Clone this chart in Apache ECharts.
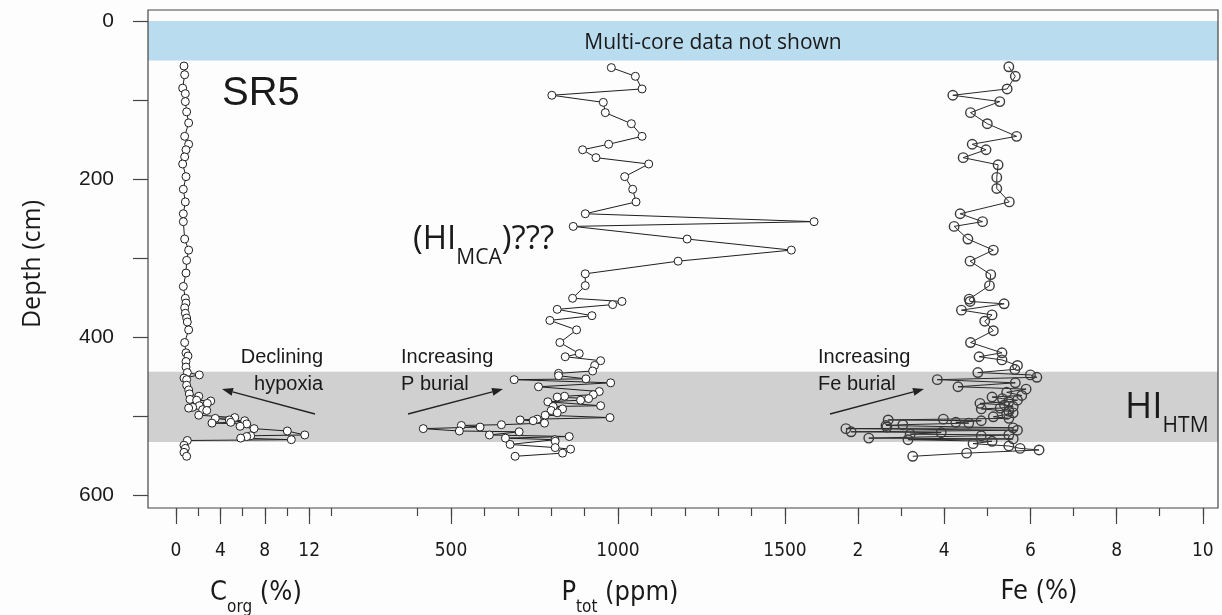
<!DOCTYPE html>
<html><head><meta charset="utf-8">
<script src="https://cdn.jsdelivr.net/npm/echarts@6/dist/echarts.min.js"></script>
<style>html,body{margin:0;padding:0;background:#fdfdfd}#c{width:1222px;height:615px}</style>
</head><body><div id="c"></div><script>
// ---------- data (depth in cm) ----------
const corgDepth = [57,68,85,92,102,115,129,146,156,163,172,181,197,213,229,244,254,276,290,303,319,336,351,357,363,370,376,381,391,407,420,424,431,438,445,448,452,454,461,467,472,475,479,480,481,484,487,489,490,492,493,499,502,503,505,506,508,509,510,513,516,519,524,525,526,528,530,531,537,541,546,551];
const corgValue = [0.72,0.78,0.6,0.84,0.84,0.96,1.14,0.78,1.14,0.9,0.78,0.6,0.9,0.66,0.84,0.66,0.66,0.78,1.14,0.96,0.9,0.66,0.84,0.9,0.78,0.84,0.96,1.02,1.14,0.78,0.9,1.08,0.9,0.9,1.02,2.1,0.72,0.96,0.96,1.14,1.2,2.05,1.26,1.86,3.13,2.82,2.1,1.5,1.14,2.4,2.77,2.05,5.29,3.54,4.8,6.19,4.93,3.24,6.37,5.77,7.03,10.03,11.6,6.73,6.37,5.83,10.39,1.02,0.72,0.84,0.72,0.96];

const ptotDepth = [59,70,86,94,103,116,130,146,156,163,173,181,197,213,229,244,254,260,276,290,304,320,335,351,355,359,365,373,379,391,407,421,425,430,436,443,446,449,453,454,458,463,469,473,475,476,478,480,482,487,488,491,493,496,499,502,504,505,506,509,511,512,514,516,519,520,524,526,528,530,532,536,540,542,547,551];
const ptotValue = [980,1052,1072,802,956,962,1040,1072,972,894,934,1092,1020,1044,1054,902,1587,866,1207,1519,1180,902,902,864,1012,984,818,922,796,876,826,884,842,948,930,924,822,822,904,689,978,762,944,926,840,818,912,888,790,948,806,834,800,818,782,976,758,707,746,780,651,531,587,417,525,704,615,854,663,811,812,677,812,858,834,692];

const feDepth = [58,70,86,94,102,116,130,146,156,163,173,182,198,212,229,244,254,260,276,290,304,321,335,352,355,358,366,372,380,392,407,420,425,429,436,441,445,448,451,454,458,463,466,470,474,476,478,480,482,484,486,488,490,491,494,496,498,501,503,504,505,506,508,509,511,512,514,515,516,518,520,521,523,524,525,528,529,530,532,535,538,541,543,547,551];
const feValue = [5.50,5.65,5.46,4.20,5.29,4.61,5.00,5.68,4.65,4.97,4.44,5.25,5.22,5.22,5.51,4.37,4.89,4.23,4.55,5.14,4.60,5.08,5.05,4.58,4.60,5.39,4.40,5.11,4.94,5.14,4.61,5.34,4.81,5.34,5.70,5.64,4.78,6.00,6.15,3.84,5.65,4.32,5.90,5.45,5.80,5.11,5.35,5.70,5.50,4.83,5.40,5.60,5.30,4.86,5.50,5.60,5.45,5.14,5.50,3.98,2.70,4.86,4.27,4.57,3.04,2.65,2.67,5.60,1.72,5.70,1.84,3.93,3.21,5.50,4.86,2.25,5.60,3.16,5.11,4.67,5.50,5.76,6.20,4.52,3.27];

// shaded depth intervals [top, bottom]
const multiCoreBand = [0, 50];
const htmBand = [444, 533];

// axis ranges and tick steps
const depthAxis = {min: 0, max: 600, step: 100, labelStep: 200};
const corgAxis = {min: 0, max: 14, labelMax: 12, minor: 2, major: 4};
const ptotAxis = {min: 400, labelMin: 500, max: 1500, minor: 100, major: 500};
const feAxis = {min: 2, max: 10, minor: 1, major: 2};

// ---------- layout ----------
const PX = {frameL: 148, frameT: 10, frameW: 1070, frameH: 498, plotT: 21, plotH: 474};
// anchor value -> pixel position, pixels per unit
const corgPx = {a: 0, p: 176, k: 11.1};
const ptotPx = {a: 500, p: 451, k: 0.334};
const fePx = {a: 2, p: 858, k: 43.1};
const toPx = (m, v) => m.p + (v - m.a) * m.k;

const NARROW = '"Liberation Sans Narrow","Arial Narrow","DejaVu Sans Condensed","Liberation Sans",sans-serif';
const ARIAL = '"Liberation Sans",Arial,sans-serif';
const MYRIAD = '"Open Sans","Noto Sans",sans-serif';
const INK = '#1a1a1a';
const AX = '#454545';

const pairs = (vals, deps) => vals.map((v, i) => [v, deps[i]]);

function spanGrid(m, lo, hi) {
  return {left: toPx(m, lo), top: PX.plotT, width: (hi - lo) * m.k, height: PX.plotH, show: false};
}
function wideGrid() {
  return {left: PX.frameL, top: PX.plotT, width: PX.frameW, height: PX.plotH, show: false};
}
const grids = [
  {left: PX.frameL, top: PX.frameT, width: PX.frameW, height: PX.frameH, show: true,
   borderColor: AX, borderWidth: 1.2, backgroundColor: 'transparent', z: 5},
  wideGrid(),
  spanGrid(corgPx, corgAxis.min, corgAxis.max),
  spanGrid(corgPx, corgAxis.min, corgAxis.labelMax),
  spanGrid(ptotPx, ptotAxis.min, ptotAxis.max),
  spanGrid(ptotPx, ptotAxis.labelMin, ptotAxis.max),
  spanGrid(fePx, feAxis.min, feAxis.max),
  spanGrid(fePx, feAxis.min, feAxis.max),
  wideGrid(), wideGrid(), wideGrid()     // data layers (one per profile)
];

const OFF = PX.frameT + PX.frameH - (PX.plotT + PX.plotH); // shift x axes to frame bottom

function tickX(gi, min, max, step, major) {
  return {type: 'value', gridIndex: gi, min: min, max: max, interval: step, position: 'bottom', offset: OFF,
    axisLine: {show: false, onZero: false}, splitLine: {show: false},
    axisTick: {show: true, length: major ? 16 : 8, lineStyle: {color: AX, width: 1.2}},
    axisLabel: major ? {show: true, margin: 34, fontSize: 19, fontFamily: NARROW, color: INK,
      showMinLabel: true, showMaxLabel: true, hideOverlap: false, formatter: v => String(v)} : {show: false}};
}
function dataX(gi, m) {
  return {type: 'value', gridIndex: gi, show: false, axisLine: {onZero: false},
    min: m.a + (PX.frameL - m.p) / m.k, max: m.a + (PX.frameL + PX.frameW - m.p) / m.k};
}
const hiddenX = gi => ({type: 'value', gridIndex: gi, min: 0, max: 1, show: false, axisLine: {onZero: false}});
const hiddenY = gi => ({type: 'value', gridIndex: gi, min: depthAxis.min, max: depthAxis.max, inverse: true, show: false});

const xAxes = [
  hiddenX(0), hiddenX(1),
  tickX(2, corgAxis.min, corgAxis.max, corgAxis.minor, false),
  tickX(3, corgAxis.min, corgAxis.labelMax, corgAxis.major, true),
  tickX(4, ptotAxis.min, ptotAxis.max, ptotAxis.minor, false),
  tickX(5, ptotAxis.labelMin, ptotAxis.max, ptotAxis.major, true),
  tickX(6, feAxis.min, feAxis.max, feAxis.minor, false),
  tickX(7, feAxis.min, feAxis.max, feAxis.major, true),
  dataX(8, corgPx), dataX(9, ptotPx), dataX(10, fePx)
];
const yAxes = [
  {type: 'value', gridIndex: 0, min: 0, max: 1, show: false},
  {type: 'value', gridIndex: 1, min: depthAxis.min, max: depthAxis.max, interval: depthAxis.step, inverse: true,
   axisLine: {show: false, onZero: false}, splitLine: {show: false},
   axisTick: {show: true, length: 15, lineStyle: {color: AX, width: 1.2}},
   axisLabel: {margin: 34, fontSize: 21, fontFamily: ARIAL, color: INK,
     formatter: v => (v % depthAxis.labelStep === 0 ? String(v) : '')}},
  hiddenY(2), hiddenY(3), hiddenY(4), hiddenY(5), hiddenY(6), hiddenY(7),
  hiddenY(8), hiddenY(9), hiddenY(10)
];

function profile(name, gi, data, filled) {
  return {name: name, type: 'line', xAxisIndex: gi, yAxisIndex: gi, data: data, clip: false,
    symbol: 'circle', symbolSize: filled ? 8 : 9.5, showSymbol: true, z: 3,
    lineStyle: {color: filled ? '#1f1f1f' : '#2a2a2a', width: 1},
    itemStyle: filled ? {color: '#ffffff', borderColor: '#1f1f1f', borderWidth: 1}
                      : {color: 'rgba(255,255,255,0)', borderColor: '#3c3c3c', borderWidth: 1.4},
    emphasis: {disabled: true}};
}

const series = [
  {type: 'line', xAxisIndex: 1, yAxisIndex: 1, data: [], silent: true,
   markArea: {silent: true, data: [
     [{yAxis: multiCoreBand[0], itemStyle: {color: '#b9dcee'}}, {yAxis: multiCoreBand[1]}],
     [{yAxis: htmBand[0], itemStyle: {color: '#d0d0d0'}}, {yAxis: htmBand[1]}]
   ]}},
  profile('Corg', 8, pairs(corgValue, corgDepth), true),
  profile('Ptot', 9, pairs(ptotValue, ptotDepth), true),
  profile('Fe', 10, pairs(feValue, feDepth), false)
];

function txt(x, y, text, font, size, align, extra) {
  return Object.assign({type: 'text', x: x, y: y, z: 20, silent: true,
    style: {text: text, font: size + 'px ' + font, fill: INK, align: align || 'left', verticalAlign: 'middle'}}, extra || {});
}
function subText(x, y, main1, sub, main2, size, subSize, font, align, drop) {
  const d = drop == null ? 0.38 : drop;
  return {type: 'text', x: x, y: y, z: 20, silent: true,
    style: {text: '{m|' + main1 + '}{s|' + sub + '}' + (main2 ? '{m|' + main2 + '}' : ''),
      align: align || 'left', verticalAlign: 'middle', fill: INK,
      rich: {
        m: {fontSize: size, fontFamily: font, fill: INK, lineHeight: size, padding: [0, 0, Math.round(size * d), 0]},
        s: {fontSize: subSize, fontFamily: font, fill: INK, lineHeight: subSize, padding: [Math.round(size * (1 + d)) - subSize, 0, 0, 0]}
      }}};
}
// annotation arrow: shaft plus filled head, in pixels
function arrowG(x1, y1, x2, y2) {
  const ang = Math.atan2(y2 - y1, x2 - x1), L = 11, W = 4;
  const bx = x2 - L * Math.cos(ang), by = y2 - L * Math.sin(ang);
  const px = -Math.sin(ang) * W, py = Math.cos(ang) * W;
  return [
    {type: 'line', z: 20, silent: true, shape: {x1: x1, y1: y1, x2: bx, y2: by}, style: {stroke: '#222', lineWidth: 1.3}},
    {type: 'polygon', z: 20, silent: true, shape: {points: [[x2, y2], [bx + px, by + py], [bx - px, by - py]]}, style: {fill: '#222'}}
  ];
}

const graphics = [
  txt(713, 43, 'Multi-core data not shown', MYRIAD, 21, 'center'),
  txt(222, 94, 'SR5', ARIAL, 40, 'left'),
  subText(413, 246, '(HI', 'MCA', ')???', 33, 21, MYRIAD, 'left'),
  subText(1125, 413, 'HI', 'HTM', '', 37, 21, MYRIAD, 'left', 0.3),
  txt(323, 357, 'Declining', ARIAL, 20, 'right'),
  txt(323, 384, 'hypoxia', ARIAL, 20, 'right'),
  txt(401, 357, 'Increasing', ARIAL, 20, 'left'),
  txt(401, 384, 'P burial', ARIAL, 20, 'left'),
  txt(818, 357, 'Increasing', ARIAL, 20, 'left'),
  txt(818, 384, 'Fe burial', ARIAL, 20, 'left'),
  txt(33, 264, 'Depth (cm)', MYRIAD, 25, 'center', {rotation: Math.PI / 2}),
  subText(256, 598, 'C', 'org', ' (%)', 27, 17, NARROW, 'center'),
  subText(620, 598, 'P', 'tot', ' (ppm)', 27, 17, NARROW, 'center'),
  txt(1039, 592, 'Fe (%)', NARROW, 27, 'center')
].concat(arrowG(315, 414, 222, 389), arrowG(408, 414, 503, 389), arrowG(830, 414, 924, 389));

const chart = echarts.init(document.getElementById('c'), null, {renderer: 'canvas'});
chart.setOption({
  animation: false,
  backgroundColor: '#fdfdfd',
  grid: grids, xAxis: xAxes, yAxis: yAxes, series: series, graphic: graphics,
  tooltip: {show: false}, legend: {show: false}
});
</script></body></html>
